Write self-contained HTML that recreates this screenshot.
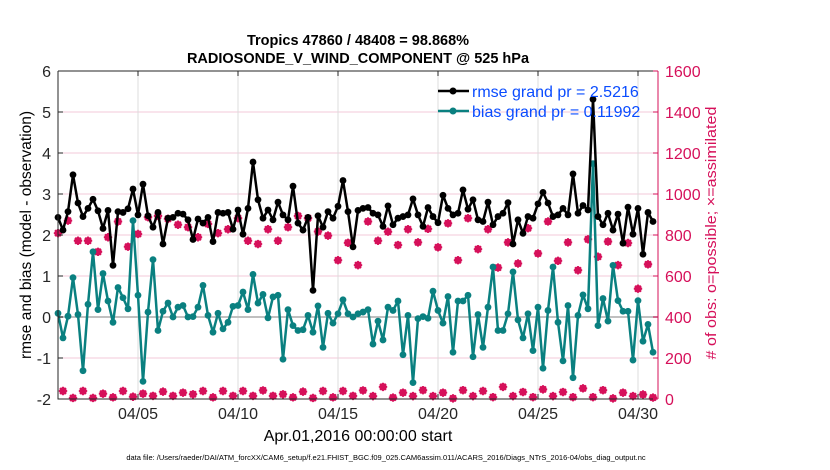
<!DOCTYPE html>
<html><head><meta charset="utf-8"><style>
html,body{margin:0;padding:0;background:#fff;width:830px;height:470px;overflow:hidden}
svg text{font-family:"Liberation Sans",sans-serif}
</style></head><body>
<svg id="chart" width="830" height="470" viewBox="0 0 830 470" xmlns="http://www.w3.org/2000/svg">
<g id="grid"></g>
<g id="marks"></g>
<g id="axes"></g>
<text x="358" y="45" font-size="14.5" font-weight="bold" text-anchor="middle">Tropics 47860 / 48408 = 98.868%</text>
<text x="358" y="63" font-size="14.5" font-weight="bold" text-anchor="middle">RADIOSONDE_V_WIND_COMPONENT @ 525 hPa</text>
<text transform="translate(31,235) rotate(-90)" font-size="15.5" text-anchor="middle">rmse and bias (model - observation)</text>
<text transform="translate(716,233) rotate(-90)" font-size="15" fill="#d6105a" text-anchor="middle" textLength="253" lengthAdjust="spacingAndGlyphs"># of obs: o=possible; ×=assimilated</text>
<text x="358" y="441" font-size="16" text-anchor="middle">Apr.01,2016 00:00:00 start</text>
<text x="386" y="460" font-size="7.5" text-anchor="middle">data file: /Users/raeder/DAI/ATM_forcXX/CAM6_setup/f.e21.FHIST_BGC.f09_025.CAM6assim.011/ACARS_2016/Diags_NTrS_2016-04/obs_diag_output.nc</text>
<g>
<line x1="438" y1="91" x2="469" y2="91" stroke="#000" stroke-width="2.5"/><circle cx="453" cy="91" r="3.5" fill="#000"/>
<text x="472" y="97" font-size="16" fill="#0a4cff">rmse grand pr = 2.5216</text>
<line x1="438" y1="111" x2="469" y2="111" stroke="#0a8080" stroke-width="2.5"/><circle cx="453" cy="111" r="3.5" fill="#0a8080"/>
<text x="472" y="117" font-size="16" fill="#0a4cff">bias grand pr = 0.11992</text>
</g>
</svg>
<script>
const rmse=[2.43,2.12,2.57,3.47,2.78,2.45,2.65,2.87,2.59,2.16,2.60,1.26,2.57,2.55,2.64,3.12,2.49,3.24,2.47,2.19,2.55,1.78,2.41,2.43,2.53,2.51,2.37,1.89,2.39,2.29,2.43,1.84,2.55,2.53,2.55,2.14,2.61,2.02,2.65,3.78,2.86,2.41,2.61,2.37,2.80,2.49,2.37,3.19,2.29,2.12,2.43,0.65,2.47,2.19,2.57,2.41,2.70,3.33,2.57,1.71,2.60,2.65,
2.67,2.53,2.49,2.21,2.71,2.25,2.41,2.45,2.49,2.88,2.49,2.21,2.67,2.45,2.30,2.97,2.65,2.49,2.53,3.10,2.63,2.86,2.37,2.33,2.80,2.25,2.45,2.53,2.79,1.78,2.37,2.04,2.45,2.41,2.76,3.04,2.78,2.45,2.49,2.65,2.49,3.49,2.53,2.72,2.61,5.31,2.45,2.25,2.53,2.12,2.51,1.80,2.68,2.02,2.65,1.53,2.55,2.33];
const bias=[0.09,-0.51,0.02,0.96,0.06,-1.31,0.31,1.59,0.18,1.06,0.39,-0.13,0.72,0.47,0.20,2.35,0.53,-1.57,0.12,1.40,-0.33,0.14,0.34,0.00,0.24,0.28,0.00,0.01,0.24,0.77,0.04,-0.37,0.09,-0.29,-0.13,0.26,0.28,0.61,0.18,1.04,0.34,0.55,-0.02,0.49,0.53,-1.03,0.18,-0.21,-0.33,-0.31,0.04,-0.37,0.27,-0.74,0.09,-0.15,0.08,0.42,0.08,0.00,0.08,0.12,
0.18,-0.66,-0.10,-0.56,0.24,0.16,0.39,-0.92,0.04,-1.60,-0.04,0.01,-0.03,0.63,0.16,-0.15,0.50,-0.86,0.39,0.39,0.53,-0.97,0.06,-0.74,0.24,1.22,-0.33,-0.33,0.08,1.10,-0.07,-0.51,0.08,-0.82,0.24,-1.25,0.16,1.22,-0.13,-1.07,0.28,-1.48,0.04,0.54,0.20,3.74,-0.21,0.45,-0.10,1.26,0.40,0.14,0.14,-1.05,0.40,-0.59,-0.18,-0.86];
const obsMain=[809,870,772,772,718,789,866,743,805,887,893,879,850,838,789,854,809,828,882,772,756,828,772,838,893,882,817,797,677,762,653,866,772,816,751,828,764,830,740,857,677,882,731,828,641,764,661,833,710,866,674,764,628,779,694,768,653,761,538,657];
const obsOff=[39,5,39,5,26,8,39,11,26,15,36,15,31,23,39,8,39,15,39,15,42,15,23,8,36,5,39,8,39,15,42,14,59,7,31,14,43,14,31,3,43,14,39,9,59,14,34,9,47,14,34,9,52,9,43,3,31,14,22,7];
const leftTicks=[-2,-1,0,1,2,3,4,5,6];
const rightTicks=[0,200,400,600,800,1000,1200,1400,1600];
const dateTicks=["04/05","04/10","04/15","04/20","04/25","04/30"];
const dateTickDays=[4,9,14,19,24,29];
const stepDays=0.25;

const L=58,R=658,T=71,B=399;
const xS=d=>L+(d/30)*(R-L);
const yL=v=>B-(v+2)/8*(B-T);
const yR=v=>B-v/1600*(B-T);
const NS="http://www.w3.org/2000/svg";
function mk(tag,attrs,parent){const e=document.createElementNS(NS,tag);for(const k in attrs)e.setAttribute(k,attrs[k]);parent.appendChild(e);return e;}
const grid=document.getElementById('grid'),marks=document.getElementById('marks'),axes=document.getElementById('axes');

rightTicks.forEach(v=>{const g=mk('line',{x1:L,x2:R,y1:yR(v),y2:yR(v),stroke:'#f3c8d8','stroke-width':1},grid);

});
dateTickDays.forEach(d=>{const g=mk('line',{x1:xS(d),x2:xS(d),y1:T,y2:B,stroke:'#dcdcdc','stroke-width':1},grid);

});
const z=mk('line',{x1:L,x2:R,y1:yL(0),y2:yL(0),stroke:'#c0c0c0','stroke-width':2},grid);



function obsMarker(x,y){
  const g=mk('g',{},marks);
  
  
  mk('circle',{cx:x,cy:y,r:3,fill:'none',stroke:'#d6105a','stroke-width':1.5},g);
  mk('path',{d:`M${x-4.2},${y}H${x+4.2}M${x},${y-4.2}V${y+4.2}M${x-3},${y-3}L${x+3},${y+3}M${x-3},${y+3}L${x+3},${y-3}`,stroke:'#d6105a','stroke-width':1.8},g);
}
obsMain.forEach((v,i)=>obsMarker(xS(i*2*stepDays),yR(v)));
obsOff.forEach((v,i)=>obsMarker(xS((i*2+1)*stepDays),yR(v)));

function series(arr,color,name){
  const pts=arr.map((v,i)=>[xS(i*stepDays),yL(v)]);
  const p=mk('polyline',{points:pts.map(p=>p.join(',')).join(' '),fill:'none',stroke:color,'stroke-width':2.5,'stroke-linejoin':'round'},marks);
  
  
  pts.forEach(pt=>{const c=mk('circle',{cx:pt[0],cy:pt[1],r:3.4,fill:color},marks);
  
  });
}
series(bias,'#0a8080','bias');
series(rmse,'#000','rmse');

const a1=mk('path',{d:`M${L},${T}V${B}H${R}`,stroke:'#262626','stroke-width':1,fill:'none'},axes);


const a2=mk('line',{x1:R,x2:R,y1:T,y2:B,stroke:'#d6105a','stroke-width':1},axes);


const a3=mk('line',{x1:L,x2:R,y1:T,y2:T,stroke:'#262626','stroke-width':1},axes);


leftTicks.forEach(v=>{
  mk('line',{x1:L,x2:L+5,y1:yL(v),y2:yL(v),stroke:'#262626'},axes);
  const t=mk('text',{x:L-7,y:yL(v)+6,'font-size':16,'text-anchor':'end',fill:'#262626'},axes);
  t.textContent=v;
  
  
});
rightTicks.forEach(v=>{
  mk('line',{x1:R-5,x2:R,y1:yR(v),y2:yR(v),stroke:'#d6105a'},axes);
  const t=mk('text',{x:R+7,y:yR(v)+6,'font-size':16,fill:'#d6105a'},axes);
  t.textContent=v;
  
  
});
dateTicks.forEach((s,i)=>{
  const x=xS(dateTickDays[i]);
  mk('line',{x1:x,x2:x,y1:B,y2:B-5,stroke:'#262626'},axes);
  mk('line',{x1:x,x2:x,y1:T,y2:T+5,stroke:'#262626'},axes);
  const t=mk('text',{x:x,y:B+20,'font-size':16,'text-anchor':'middle',fill:'#262626'},axes);
  t.textContent=s;
  
  
});
</script>
</body></html>
